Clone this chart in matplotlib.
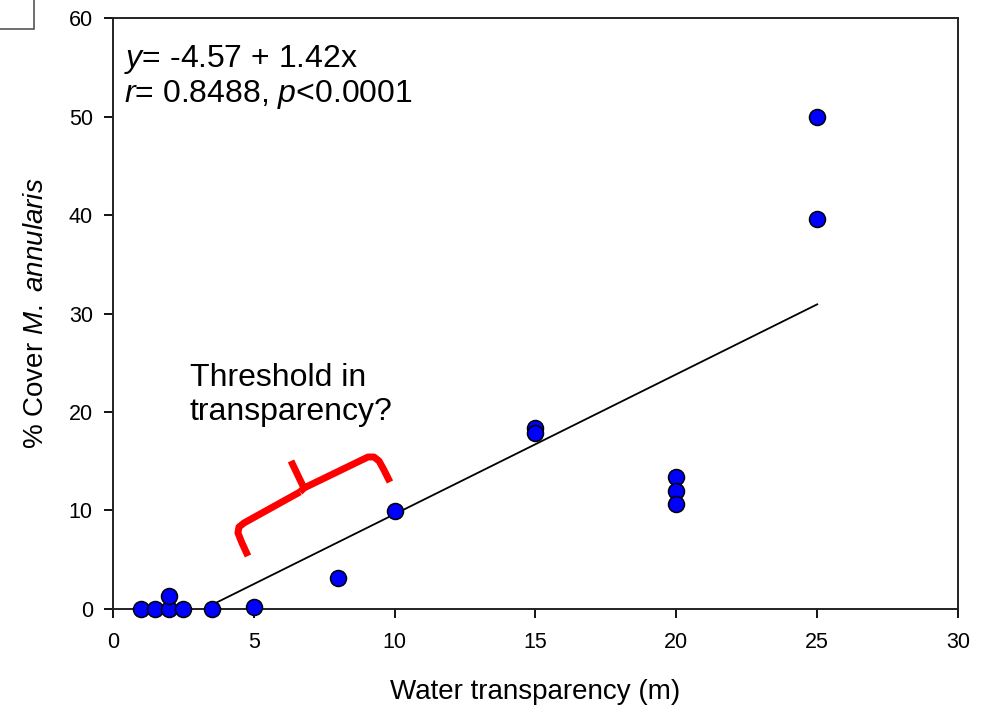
import numpy as np
import matplotlib
matplotlib.use("Agg")
import matplotlib.pyplot as plt
from matplotlib.patches import Rectangle

plt.rcParams["font.family"] = ["Liberation Sans", "DejaVu Sans"]
plt.rcParams["mathtext.fontset"] = "custom"
plt.rcParams["mathtext.rm"] = "Liberation Sans"
plt.rcParams["mathtext.it"] = "Liberation Sans:italic"

# Coral cover vs water transparency
transparency = [1, 1.5, 2, 2, 2.5, 3.5, 5, 8, 10, 15, 15, 20, 20, 20, 25, 25]
cover = [0, 0, 0, 1.3, 0, 0, 0.2, 3.1, 9.9, 18.4, 17.9, 13.4, 12.0, 10.7, 50.0, 39.6]

# regression fit
intercept = -4.57
slope = 1.42
fit_range = [3.5, 25]

# hand-drawn brace marking the threshold region (data units)
brace_left = [(4.793, 5.38), (4.580, 6.70), (4.438, 7.72), (4.473, 8.32),
              (4.651, 8.73), (6.639, 11.88)]
brace_tip = [(6.639, 11.88), (6.781, 12.28), (6.320, 15.03)]
brace_right = [(6.781, 12.28), (9.053, 15.43), (9.266, 15.43), (9.444, 15.03),
               (9.621, 14.11), (9.834, 12.89)]

fig = plt.figure(figsize=(9.9, 7.1), dpi=100)
ax = fig.add_axes([0.1141, 0.1423, 0.8536, 0.8323])

fit_x = np.array(fit_range)
ax.plot(fit_x, intercept + slope * fit_x, color="black", lw=1.3, zorder=2)
ax.plot(transparency, cover, "o", ms=11.5, mfc="#0000ff", mec="black", mew=1.1,
        zorder=3, clip_on=False)

ax.set_xlim(0, 30)
ax.set_ylim(0, 60)
ax.set_xticks(range(0, 31, 5))
ax.set_yticks(range(0, 61, 10))
ax.tick_params(direction="out", length=6.5, width=1.3, labelsize=15.5)
ax.tick_params(axis="x", pad=10)
ax.tick_params(axis="y", pad=8)
for s in ax.spines.values():
    s.set_linewidth(1.4)
    s.set_color("#222222")

ax.set_xlabel("Water transparency (m)", fontsize=20, labelpad=19)
ax.set_ylabel(r"% Cover $\mathit{M.\ annularis}$", fontsize=20, labelpad=14)

ax.text(0.013, 0.917, r"$\mathit{y}$= -4.57 + 1.42x", transform=ax.transAxes,
        fontsize=23, va="baseline", ha="left")
ax.text(0.013, 0.858, r"$\mathit{r}$= 0.8488, $\mathit{p}$<0.0001", transform=ax.transAxes,
        fontsize=23, va="baseline", ha="left")

ax.text(2.73, 22.64, "Threshold in", fontsize=23, va="baseline", ha="left")
ax.text(2.73, 19.19, "transparency?", fontsize=23, va="baseline", ha="left")

for piece in (brace_left, brace_tip, brace_right):
    bx, by = zip(*piece)
    ax.plot(bx, by, color="#ff0000", lw=5, solid_joinstyle="round",
            solid_capstyle="butt", zorder=2)

# small box in the top-left corner
fig.patches.append(Rectangle((-0.01, 0.959), 0.0445, 0.05, transform=fig.transFigure,
                             fill=False, edgecolor="#555555", lw=1.2))

fig.savefig("out.png", dpi=100)
